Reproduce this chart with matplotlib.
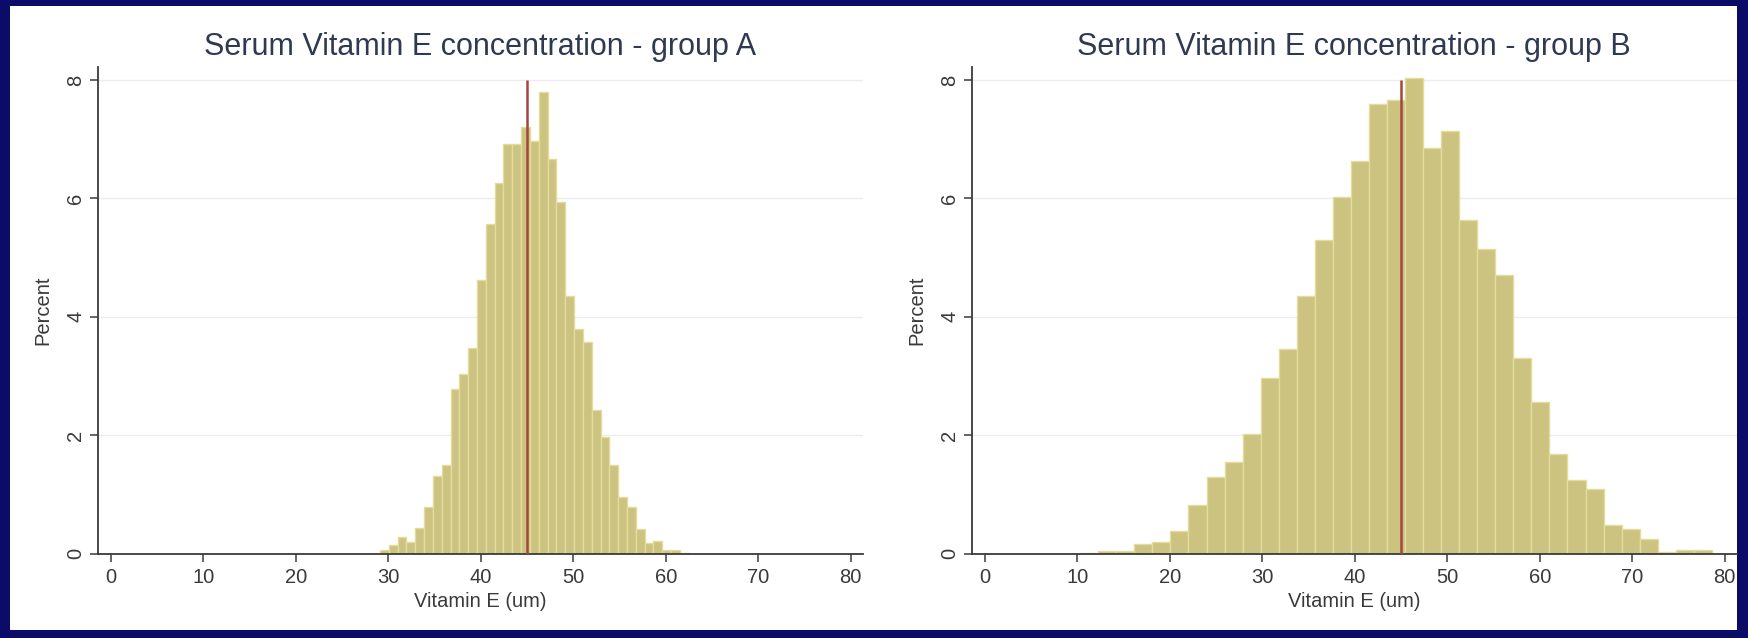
import numpy as np
import matplotlib
matplotlib.use("Agg")
import matplotlib.pyplot as plt
from matplotlib.patches import Rectangle

plt.rcParams["font.family"] = ["Liberation Sans", "DejaVu Sans"]

# Histogram of serum vitamin E, group A (percent per bin)
group_a_start = 29.1
group_a_width = 0.954
group_a_pct = [0.07, 0.14, 0.28, 0.20, 0.43, 0.79, 1.31, 1.49, 2.79, 3.04,
               3.48, 4.63, 5.56, 6.26, 6.92, 6.92, 7.21, 6.97, 7.80, 6.66,
               5.94, 4.35, 3.80, 3.58, 2.43, 1.97, 1.50, 0.95, 0.79, 0.42,
               0.18, 0.21, 0.06, 0.07, 0.02]

# Histogram of serum vitamin E, group B (percent per bin)
group_b_start = 10.3
group_b_width = 1.952
group_b_pct = [0.02, 0.05, 0.05, 0.16, 0.20, 0.38, 0.82, 1.29, 1.55, 2.02,
               2.97, 3.46, 4.36, 5.30, 6.02, 6.64, 7.60, 7.67, 8.04, 6.85,
               7.14, 5.64, 5.14, 4.71, 3.31, 2.56, 1.68, 1.24, 1.09, 0.48,
               0.41, 0.24, 0.03, 0.07, 0.07]

reference_value = 45
x_ticks = [0, 10, 20, 30, 40, 50, 60, 70, 80]
y_ticks = [0, 2, 4, 6, 8]
titles = ["Serum Vitamin E concentration - group A",
          "Serum Vitamin E concentration - group B"]
x_label = "Vitamin E (um)"
y_label = "Percent"

W, H = 1748, 638
fig = plt.figure(figsize=(W / 100, H / 100), dpi=100)
fig.patch.set_facecolor("#0b0b68")
fig.add_artist(Rectangle((10 / W, 8 / H), (1737 - 10) / W, (632 - 8) / H,
                         transform=fig.transFigure, facecolor="white",
                         edgecolor="none", zorder=-5))

bar_color = "#cbc37f"
bar_edge = "#e4dc9c"
axis_color = "#3a3a3a"
text_color = "#3a3a3a"
title_color = "#2f3a52"

ax_bottom = 84.3 / H
ax_height = (553.7 - 67) / H
ax_width_px = 765
ax_width = ax_width_px / W
lefts = [97.6 / W, 971.6 / W]

panels = [(group_a_start, group_a_width, group_a_pct),
          (group_b_start, group_b_width, group_b_pct)]

for left, title, (start, width, pct) in zip(lefts, titles, panels):
    ax = fig.add_axes([left, ax_bottom, ax_width, ax_height])
    ax.patch.set_alpha(0)
    edges = start + width * np.arange(len(pct))
    ax.bar(edges, pct, width=width, align="edge", color=bar_color,
           edgecolor=bar_edge, linewidth=1.0, zorder=2)
    ax.vlines(reference_value, 0, y_ticks[-1], color="#a4463e",
              linewidth=1.8, zorder=3)

    ax.set_xlim(-1.45, 81.3)
    ax.set_ylim(0, 8.22)
    ax.set_xticks(x_ticks)
    ax.set_yticks(y_ticks)
    ax.set_yticklabels([str(v) for v in y_ticks], rotation=90, va="center")
    for y in y_ticks[1:]:
        ax.axhline(y, color="#ececec", linewidth=1.0, zorder=1)

    for side in ("top", "right"):
        ax.spines[side].set_visible(False)
    for side in ("left", "bottom"):
        ax.spines[side].set_color(axis_color)
        ax.spines[side].set_linewidth(1.3)
    ax.tick_params(axis="both", direction="out", length=6, width=1.1,
                   color=axis_color, labelcolor=text_color, labelsize=14.5)
    ax.tick_params(axis="x", pad=4)
    ax.tick_params(axis="y", pad=3)

    ax.set_xlabel(x_label, fontsize=14.5, color=text_color)
    ax.xaxis.set_label_coords(0.5, -(602 - 553.7) / (553.7 - 67))
    ax.xaxis.label.set_va("center")
    ax.set_ylabel(y_label, fontsize=14.5, color=text_color)
    ax.yaxis.set_label_coords(-54.6 / ax_width_px, 0.5)
    ax.yaxis.label.set_va("center")

    ax.text(0.5, (553.7 - 47) / (553.7 - 67), title, transform=ax.transAxes,
            ha="center", va="center", fontsize=22, color=title_color)

fig.savefig("out.png", dpi=100, facecolor=fig.get_facecolor())
